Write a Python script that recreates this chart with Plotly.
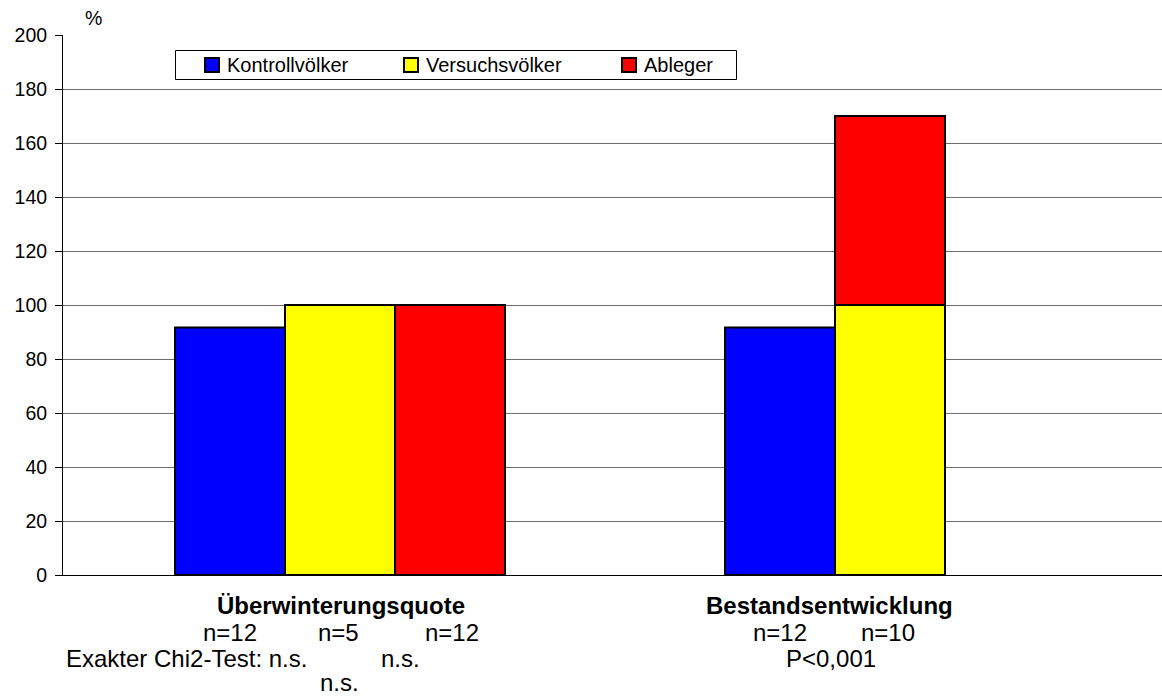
import plotly.graph_objects as go

# ---- data ----
categories = ["Überwinterungsquote", "Bestandsentwicklung"]
series_names = ["Kontrollvölker", "Versuchsvölker", "Ableger"]
kontroll = [91.7, 91.7]
versuch = [100, 100]
ableger = [100, 70]          # group 2: stacked on top of Versuchsvölker (total 170)
y_ticks = [0, 20, 40, 60, 80, 100, 120, 140, 160, 180, 200]
n_labels_1 = ["n=12", "n=5", "n=12"]
n_labels_2 = ["n=12", "n=10"]

colors = ["#0000FF", "#FFFF00", "#FF0000"]
FONT = "Liberation Sans, Arial, sans-serif"

W, H = 1162, 697
L, R, T, B = 63, 0, 35, 122
PW, PH = W - L - R, H - T - B


def px(x):
    return (x - L) / PW


def py(y):
    return (H - B - y) / PH


line = dict(color="black", width=2)
fig = go.Figure()
fig.add_trace(go.Bar(x=categories, y=kontroll, name=series_names[0], offsetgroup="1",
                     marker=dict(color=colors[0], line=line)))
fig.add_trace(go.Bar(x=categories, y=versuch, name=series_names[1], offsetgroup="2",
                     marker=dict(color=colors[1], line=line)))
fig.add_trace(go.Bar(x=[categories[0]], y=[ableger[0]], name=series_names[2], offsetgroup="3",
                     marker=dict(color=colors[2], line=line)))
fig.add_trace(go.Bar(x=[categories[1]], y=[ableger[1]], base=[versuch[1]], name=series_names[2],
                     offsetgroup="2", marker=dict(color=colors[2], line=line)))

ann = []
shapes = []


def txt(text, x, y, size=24, bold=False, xanchor="center"):
    ann.append(dict(text=("<b>%s</b>" % text) if bold else text, x=px(x), y=py(y),
                    xref="paper", yref="paper", showarrow=False, xanchor=xanchor,
                    yanchor="middle", font=dict(family=FONT, size=size, color="black")))


txt("%", 93, 18, size=19.5)
txt(categories[0], 341, 605, bold=True)
for t, x in zip(n_labels_1, [230, 338, 452]):
    txt(t, x, 632)
txt("Exakter Chi2-Test: n.s.", 64, 659, xanchor="left")
txt("n.s.", 400, 659)
txt("n.s.", 339, 682)
txt(categories[1], 829, 605, bold=True)
for t, x in zip(n_labels_2, [780, 888]):
    txt(t, x, 632)
txt("P<0,001", 831, 659)

# legend box drawn with shapes + text
shapes.append(dict(type="rect", xref="paper", yref="paper", x0=px(175.5), x1=px(736.5),
                   y0=py(79.5), y1=py(50.5), line=dict(color="black", width=1),
                   fillcolor="white", layer="above"))
for name, col, mx in zip(series_names, colors, [205, 404, 622]):
    shapes.append(dict(type="rect", xref="paper", yref="paper", x0=px(mx), x1=px(mx + 14),
                       y0=py(72), y1=py(58), line=dict(color="black", width=2),
                       fillcolor=col, layer="above"))
    txt(name, mx + 20, 65, size=20, xanchor="left")

fig.update_layout(
    width=W, height=H,
    margin=dict(l=L, r=R, t=T, b=B, pad=0),
    paper_bgcolor="white", plot_bgcolor="white",
    barmode="group", bargap=0.4, bargroupgap=0,
    showlegend=False,
    font=dict(family=FONT, size=19.5, color="black"),
    annotations=ann, shapes=shapes,
    xaxis=dict(type="category", range=[-0.5 - 2 / 550, -0.5 - 2 / 550 + PW / 550],
               showticklabels=False, ticks="", showgrid=False,
               showline=True, linecolor="black", linewidth=1),
    yaxis=dict(range=[0, 200], tickvals=y_ticks, ticks="outside", ticklen=7,
               tickcolor="black", showline=True, linecolor="black", linewidth=1,
               showgrid=True, gridcolor="#6e6e6e", gridwidth=1, zeroline=False,
               ticklabelstandoff=4,
               tickfont=dict(family=FONT, size=19.5, color="black")),
)
fig.write_html("out.html", config={"displayModeBar": False},
               post_script="document.body.style.margin='0';")
